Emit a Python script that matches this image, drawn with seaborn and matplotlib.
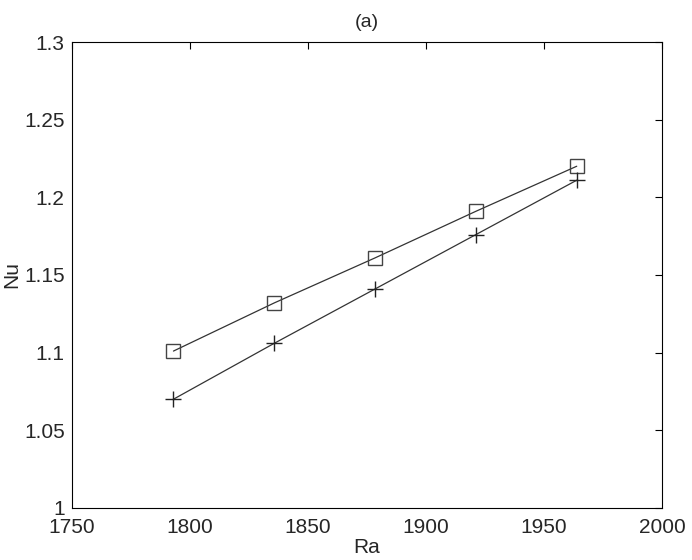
import matplotlib

matplotlib.use("Agg")

import matplotlib.pyplot as plt
import seaborn as sns

# Rayleigh numbers (1.05 ... 1.15 times Ra_c) and Nusselt numbers
RA = [1793.1, 1835.8, 1878.5, 1921.2, 1963.9]
NU_SQUARE = [1.101, 1.132, 1.161, 1.191, 1.220]
NU_PLUS = [1.070, 1.106, 1.141, 1.176, 1.211]

X_TICKS = [1750, 1800, 1850, 1900, 1950, 2000]
Y_TICKS = [1, 1.05, 1.1, 1.15, 1.2, 1.25, 1.3]
Y_TICK_LABELS = ["1", "1.05", "1.1", "1.15", "1.2", "1.25", "1.3"]

sns.set_style("white")
plt.rcParams["font.family"] = ["Liberation Sans", "DejaVu Sans"]
plt.rcParams["font.size"] = 15

fig = plt.figure(figsize=(6.92, 5.6), dpi=100)
ax = fig.add_axes([0.1036, 0.093, 0.853, 0.832])

line_color = "#333333"
sns.lineplot(
    x=RA, y=NU_SQUARE, ax=ax, color=line_color, linewidth=0.9,
    marker="s", markersize=9.5, markerfacecolor="none",
    markeredgecolor="#444444", markeredgewidth=1.0,
)
sns.lineplot(
    x=RA, y=NU_PLUS, ax=ax, color=line_color, linewidth=0.9,
    marker="+", markersize=12, markeredgecolor="#222222",
    markeredgewidth=1.0,
)

ax.set_xlim(1750, 2000)
ax.set_ylim(1, 1.3)
ax.set_xticks(X_TICKS)
ax.set_yticks(Y_TICKS)
ax.set_yticklabels(Y_TICK_LABELS)
ax.tick_params(
    direction="in", length=5, width=0.8, color="black",
    top=True, right=True, labelsize=15,
)
ax.tick_params(axis="x", pad=7)
ax.tick_params(axis="y", pad=5)
for spine in ax.spines.values():
    spine.set_visible(True)
    spine.set_color("black")
    spine.set_linewidth(0.8)

ax.set_xlabel("Ra", fontsize=15, labelpad=1)
ax.set_ylabel("Nu", fontsize=15, labelpad=2)
ax.set_title("(a)", fontsize=14, pad=11)

fig.savefig("out.png", dpi=100, facecolor="white")
